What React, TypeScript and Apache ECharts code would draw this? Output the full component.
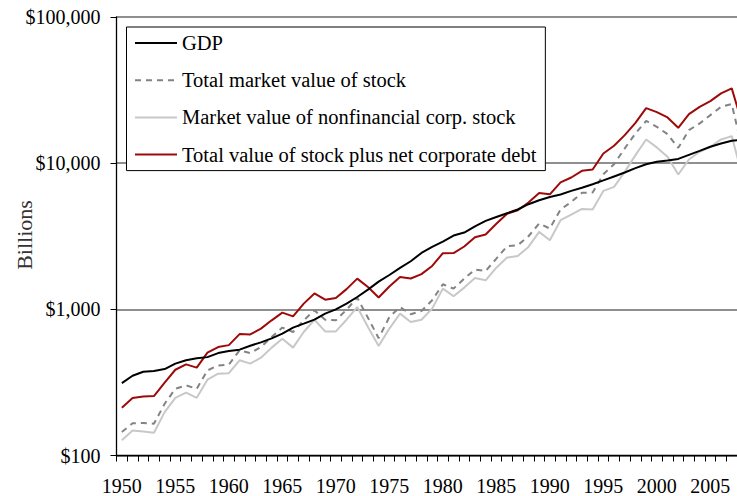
import React, { useEffect, useRef } from "react";
import * as echarts from "echarts";

const years: string[] = [];
for (let y = 1950; y <= 2008; y++) years.push(String(y));

const seriesNames = [
  "GDP",
  "Total market value of stock",
  "Market value of nonfinancial corp. stock",
  "Total value of stock plus net corporate debt",
];

const gdp = [
  313, 351, 374, 378, 390, 425, 448, 462, 471, 502,
  518, 530, 564, 594, 633, 682, 750, 798, 850, 935,
  1000, 1094, 1214, 1364, 1548, 1718, 1919, 2133, 2431, 2673,
  2909, 3198, 3352, 3700, 4025, 4285, 4545, 4819, 5240, 5580,
  5875, 6104, 6460, 6790, 7180, 7620, 8110, 8630, 9240, 9840,
  10210, 10430, 10690, 11400, 12140, 12940, 13640, 14220, 14530,
];

const totalStock = [
  145, 166, 167, 165, 226, 286, 302, 286, 382, 413,
  418, 524, 502, 552, 646, 750, 700, 841, 985, 849,
  841, 995, 1202, 875, 635, 885, 1037, 925, 974, 1153,
  1484, 1386, 1622, 1870, 1830, 2222, 2700, 2744, 3162, 3865,
  3571, 4820, 5430, 6263, 6300, 8410, 9840, 12610, 15970, 19480,
  17730, 15800, 12730, 16830, 18700, 21310, 24300, 25360, 12300,
];

const nonfinStock = [
  127, 148, 146, 143, 198, 248, 269, 248, 330, 363,
  366, 448, 425, 467, 547, 630, 547, 700, 849, 706,
  706, 849, 1037, 756, 562, 738, 935, 819, 849, 1011,
  1386, 1228, 1408, 1640, 1580, 1928, 2259, 2317, 2673, 3388,
  2970, 4070, 4449, 4864, 4819, 6460, 6880, 8720, 11350, 14530,
  12820, 11050, 8360, 10600, 11960, 12940, 14530, 15310, 8100,
];

const stockPlusDebt = [
  212, 247, 253, 255, 315, 386, 420, 399, 505, 552,
  569, 677, 674, 738, 841, 949, 895, 1094, 1285, 1165,
  1195, 1375, 1622, 1420, 1205, 1434, 1662, 1625, 1742, 1980,
  2420, 2425, 2690, 3115, 3250, 3850, 4510, 4764, 5380, 6240,
  6120, 7380, 7980, 8860, 9060, 11650, 13150, 15560, 18880, 23820,
  22350, 20550, 17450, 21660, 24300, 26600, 30000, 32500, 18400,
];

const yTicks = [100, 1000, 10000, 100000];
const yAxisTitle = "Billions";

const SERIF = "'Liberation Serif', 'Times New Roman', serif";

function fmt(v: number): string {
  return "$" + Math.round(v).toString().replace(/\B(?=(\d{3})+(?!\d))/g, ",");
}

export default function App() {
  const ref = useRef<HTMLDivElement>(null);
  useEffect(() => {
    if (!ref.current) return;
    const chart = echarts.init(ref.current, null, { renderer: "svg" });
    const colors = ["#000000", "#838383", "#c8c8c8", "#9e0a0a"];
    const datas = [gdp, totalStock, nonfinStock, stockPlusDebt];
    const types: any[] = ["solid", [6, 5], "solid", "solid"];
    chart.setOption({
      animation: false,
      backgroundColor: "#ffffff",
      textStyle: { fontFamily: SERIF },
      grid: {
        left: 116.5,
        top: 17,
        width: 631.3,
        height: 438.5,
        containLabel: false,
        outerBoundsMode: "none",
      },
      graphic: [
        {
          type: "text",
          x: 24,
          y: 235,
          rotation: Math.PI / 2,
          style: {
            text: yAxisTitle,
            font: "22px " + SERIF,
            fill: "#333",
            align: "center",
            verticalAlign: "middle",
          },
        },
      ],
      legend: {
        left: 126.5,
        top: 27,
        orient: "vertical",
        data: seriesNames,
        itemWidth: 42,
        itemHeight: 20,
        itemGap: 16.2,
        padding: [5.5, 9, 5.5, 7.5],
        backgroundColor: "#ffffff",
        borderColor: "#000000",
        borderWidth: 1,
        borderRadius: 0,
        selectedMode: false,
        itemStyle: { opacity: 0 },
        textStyle: { fontFamily: SERIF, fontSize: 20.5, color: "#000", lineHeight: 20 },
      },
      xAxis: {
        type: "category",
        data: years,
        boundaryGap: true,
        axisLine: { lineStyle: { color: "#000", width: 1.3 } },
        axisTick: { show: true, interval: 0, length: 6, lineStyle: { color: "#000", width: 1 } },
        axisLabel: {
          interval: 4,
          margin: 20,
          fontFamily: SERIF,
          fontSize: 20,
          color: "#000",
        },
        splitLine: { show: false },
      },
      yAxis: {
        type: "log",
        logBase: 10,
        min: yTicks[0],
        max: yTicks[yTicks.length - 1],
        axisLine: { show: true, lineStyle: { color: "#000", width: 1.3 } },
        axisTick: { show: true, length: 6, lineStyle: { color: "#000", width: 1 } },
        axisLabel: {
          margin: 16,
          fontFamily: SERIF,
          fontSize: 20,
          color: "#000",
          formatter: (v: number) => fmt(v),
        },
        splitLine: { show: true, lineStyle: { color: "#6a6a6a", width: 1.5 } },
      },
      series: seriesNames.map((name, i) => ({
        name,
        type: "line",
        data: datas[i],
        symbol: "none",
        showSymbol: false,
        smooth: false,
        z: i === 0 ? 5 : 3,
        itemStyle: { color: colors[i] },
        lineStyle: { color: colors[i], width: 2, type: types[i] },
      })),
    });
    return () => chart.dispose();
  }, []);
  return (
    <div
      ref={ref}
      style={{ position: "absolute", left: 0, top: 0, width: 737, height: 496 }}
    />
  );
}
